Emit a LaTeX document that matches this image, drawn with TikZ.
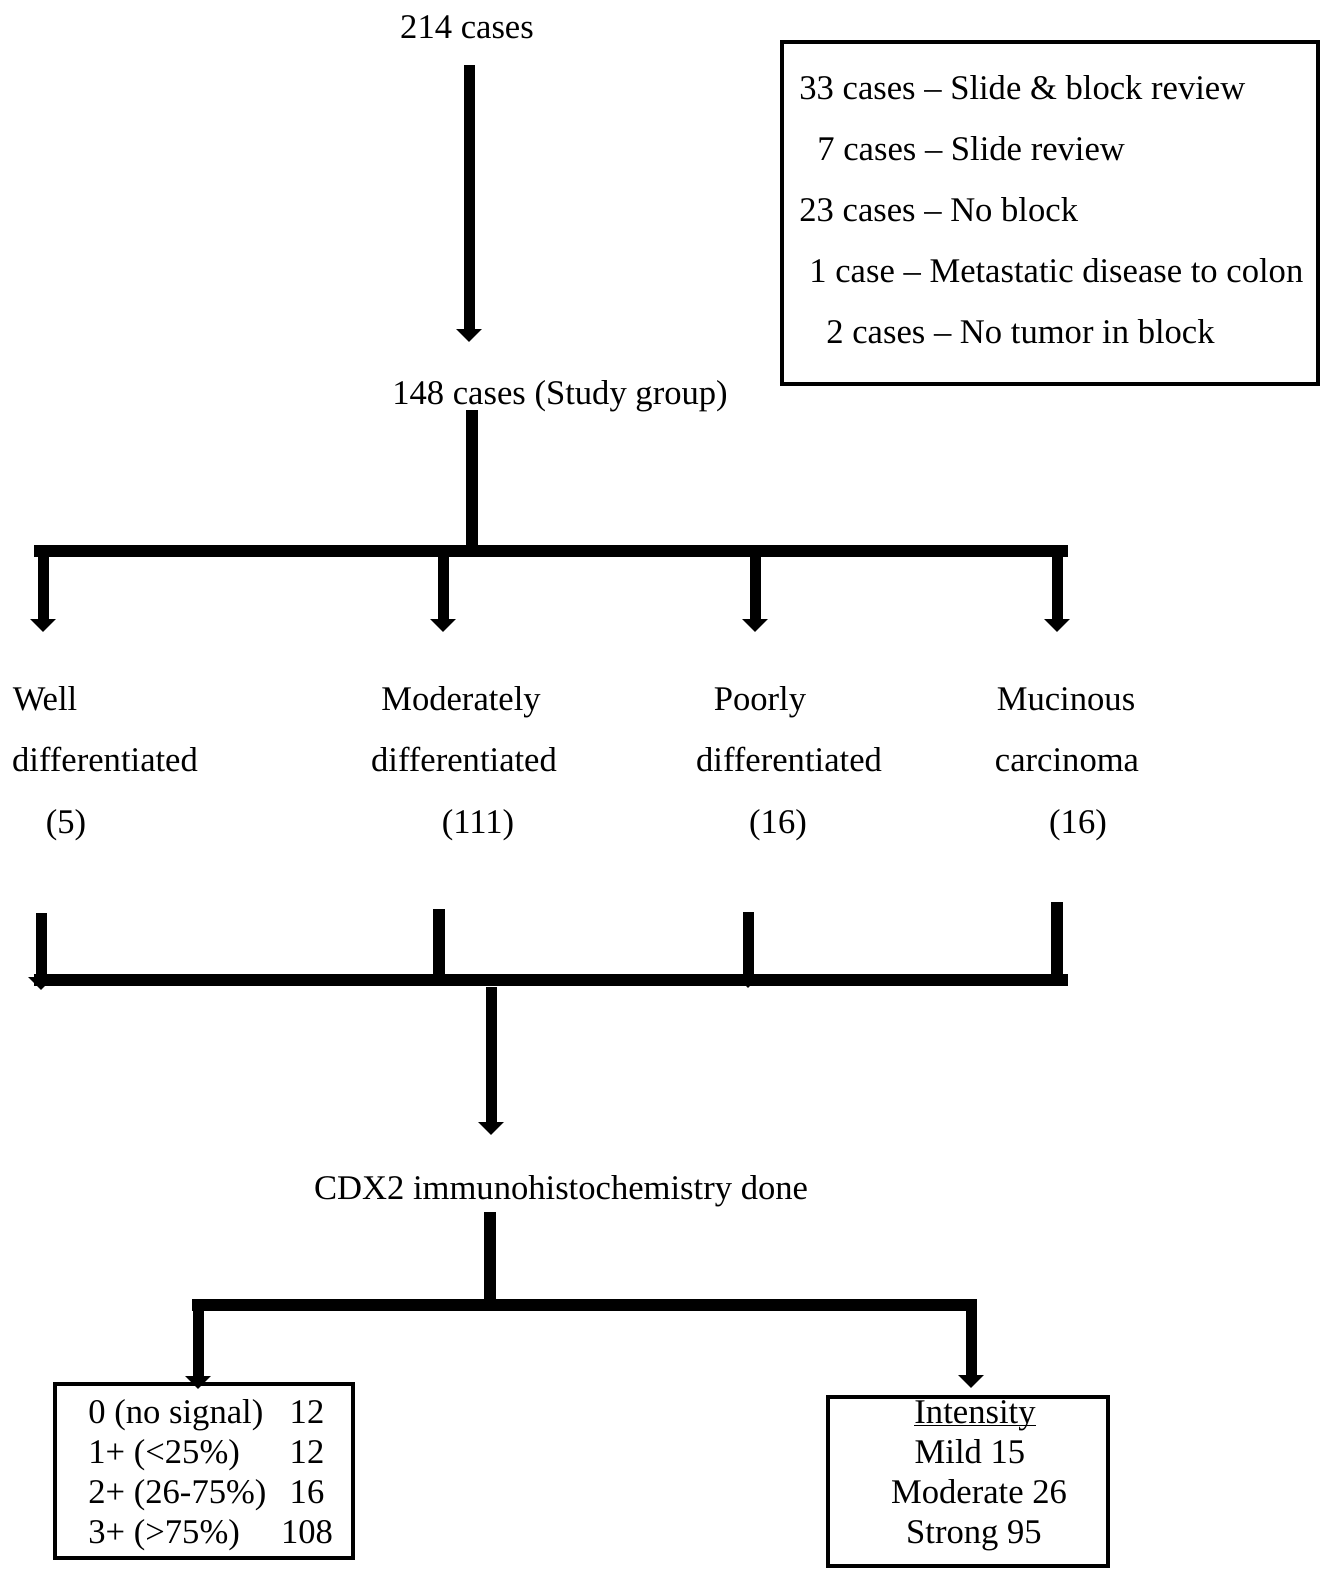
\documentclass[tikz,border=0pt]{standalone}
\usepackage{fontspec}
\setmainfont{Liberation Serif}
\usetikzlibrary{arrows.meta}

\begin{document}
\begin{tikzpicture}[x=0.5pt,y=-0.5pt,
    txt/.style={inner sep=0pt,font=\fontsize{17.3}{21}\selectfont},
    bar/.style={line width=6pt},
    arr/.style={line width=5.5pt,-{Triangle[width=12.5pt,length=6.5pt]}},
    frame/.style={draw,line width=2pt,inner sep=0pt}]
  \useasboundingbox (0,0) rectangle (1324,1569);

  % start and excluded cases
  \node[txt,anchor=base] (total) at (467,38) {214 cases};
  \node[frame,minimum width=268pt,minimum height=171pt] (excl) at (1050,213) {};
  \node[txt,anchor=base west] (e1) at (799,99) {33 cases -- Slide \& block review};
  \node[txt,anchor=base west] (e2) at (817,160) {7 cases -- Slide review};
  \node[txt,anchor=base west] (e3) at (799,221) {23 cases -- No block};
  \node[txt,anchor=base west] (e4) at (809,282) {1 case -- Metastatic disease to colon};
  \node[txt,anchor=base west] (e5) at (826,343) {2 cases -- No tumor in block};
  \coordinate (t1) at (469,65);
  \coordinate (t2) at (469,342);
  \draw[arr] (t1) -- (t2);
  \node[txt,anchor=base] (study) at (560,404) {148 cases (Study group)};

  % split into the four grades
  \coordinate (s1) at (472,410);
  \coordinate (s2) at (472,551);
  \coordinate (b1l) at (34,551);
  \coordinate (b1r) at (1068,551);
  \draw[bar] (s1) -- (s2);
  \draw[bar] (b1l) -- (b1r);
  \foreach \p/\x in {a/43,b/443,c/755,d/1057}{
    \coordinate (u\p) at (\x,551);
    \coordinate (v\p) at (\x,632);
    \draw[arr] (u\p) -- (v\p);
  }

  \node[txt,anchor=base] (well) at (45,710) {Well};
  \node[txt,anchor=base] (welldiff) at (105,771) {differentiated};
  \node[txt,anchor=base] (welln) at (66,833) {(5)};
  \node[txt,anchor=base] (mod) at (461,710) {Moderately};
  \node[txt,anchor=base] (moddiff) at (464,771) {differentiated};
  \node[txt,anchor=base] (modn) at (478,833) {(111)};
  \node[txt,anchor=base] (poor) at (760,710) {Poorly};
  \node[txt,anchor=base] (poordiff) at (789,771) {differentiated};
  \node[txt,anchor=base] (poorn) at (778,833) {(16)};
  \node[txt,anchor=base] (muc) at (1066,710) {Mucinous};
  \node[txt,anchor=base] (mucca) at (1067,771) {carcinoma};
  \node[txt,anchor=base] (mucn) at (1078,833) {(16)};

  % join again
  \coordinate (b2l) at (34,980);
  \coordinate (b2r) at (1068,980);
  \draw[bar] (b2l) -- (b2r);
  \coordinate (w1) at (41,913);
  \coordinate (w2) at (41,990);
  \coordinate (m1) at (439,909);
  \coordinate (m2) at (439,980);
  \coordinate (p1) at (748,912);
  \coordinate (p2) at (748,988);
  \coordinate (k1) at (1057,902);
  \coordinate (k2) at (1057,980);
  \draw[arr] (w1) -- (w2);
  \draw[bar] (m1) -- (m2);
  \draw[arr] (p1) -- (p2);
  \draw[bar] (k1) -- (k2);
  \coordinate (j1) at (491,987);
  \coordinate (j2) at (491,1135);
  \draw[arr] (j1) -- (j2);

  \node[txt,anchor=base] (cdx) at (561,1199) {CDX2 immunohistochemistry done};

  % results
  \coordinate (c1) at (490,1212);
  \coordinate (c2) at (490,1305);
  \coordinate (b3l) at (192,1305);
  \coordinate (b3r) at (977,1305);
  \draw[bar] (c1) -- (c2);
  \draw[bar] (b3l) -- (b3r);
  \coordinate (r1) at (198,1305);
  \coordinate (r2) at (198,1389);
  \coordinate (q1) at (971,1305);
  \coordinate (q2) at (971,1388);
  \draw[arr] (r1) -- (r2);
  \draw[arr] (q1) -- (q2);

  \node[frame,minimum width=149pt,minimum height=87pt] (score) at (204,1471) {};
  \foreach \t/\n/\y in {0 (no signal)/12/1423,1+ (<25\%)/12/1463,2+ (26-75\%)/16/1503,3+ (>75\%)/108/1543}{
    \node[txt,anchor=base west] at (88,\y) {\t};
    \node[txt,anchor=base] at (307,\y) {\n};
  }

  \node[frame,minimum width=140pt,minimum height=84.5pt] (intens) at (968,1481.5) {};
  \node[txt,anchor=base] (i1) at (975,1423) {\underline{\smash{Intensity}}};
  \node[txt,anchor=base] (i2) at (970,1463) {Mild 15};
  \node[txt,anchor=base] (i3) at (979,1503) {Moderate 26};
  \node[txt,anchor=base] (i4) at (974,1543) {Strong 95};
\end{tikzpicture}
\end{document}
